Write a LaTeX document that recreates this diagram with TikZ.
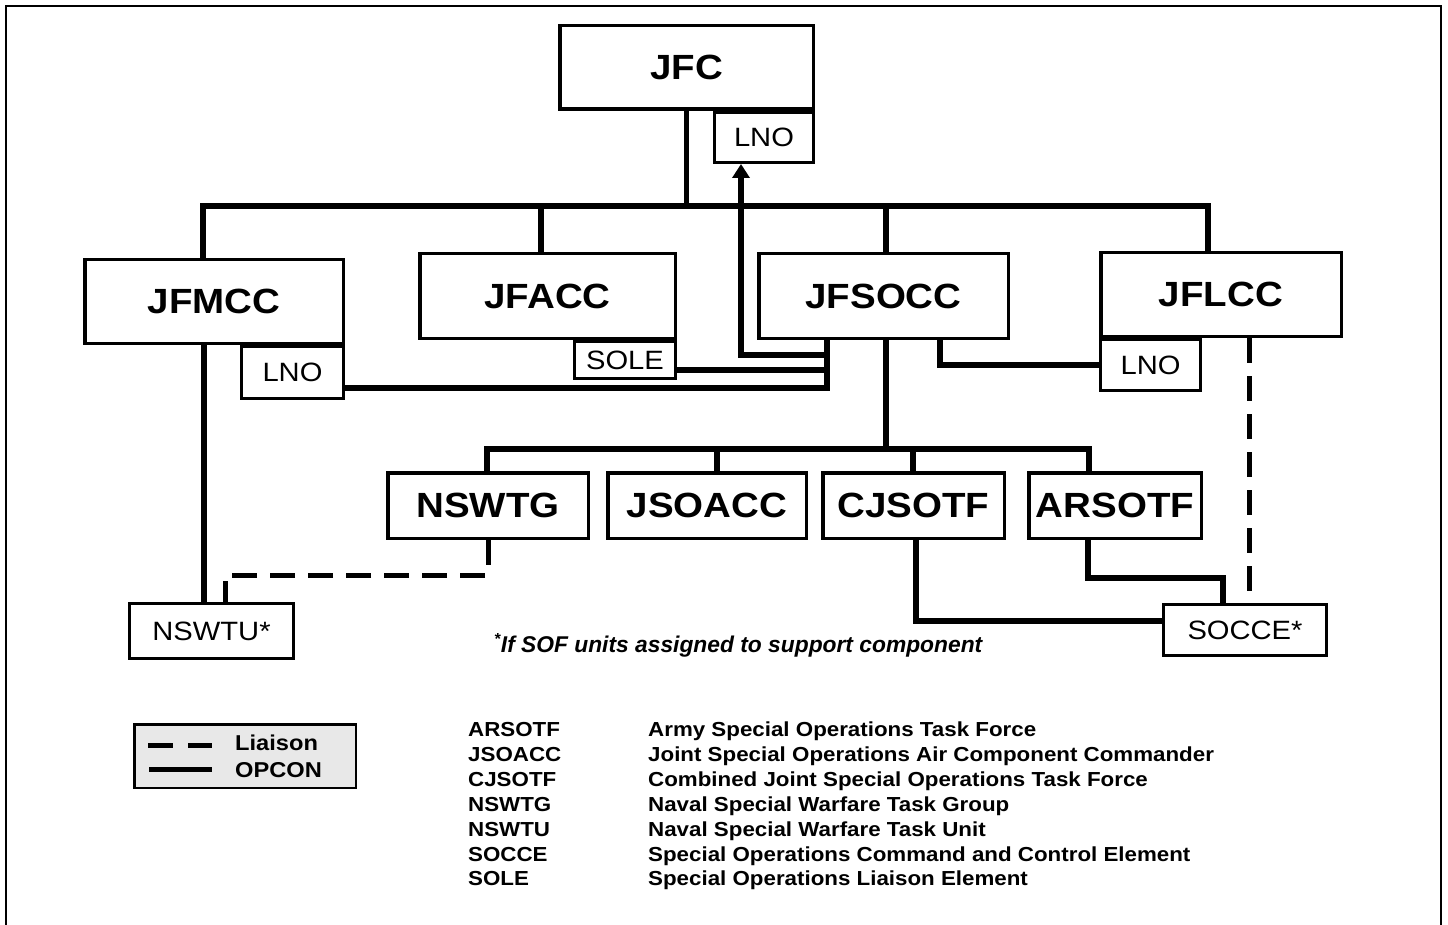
\documentclass[tikz,border=0pt]{standalone}
\usepackage{fontspec}
\setmainfont{Liberation Sans}
\newfontfamily\dfont[FakeStretch=1.1]{Liberation Sans}
\usetikzlibrary{arrows.meta}
\begin{document}
\begin{tikzpicture}[x=1pt,y=-1pt,
  bigbox/.style={draw,line width=3.5pt,inner sep=0pt,font=\dfont\fontsize{35}{40}\selectfont\bfseries},
  smallbox/.style={draw,line width=3pt,inner sep=0pt,font=\dfont\fontsize{26.5}{30}\selectfont},
  opcon/.style={line width=5.5pt},
  liaison/.style={line width=5pt,dash pattern=on 25pt off 13pt},
  abbr/.style={anchor=base west,inner sep=0pt,font=\dfont\fontsize{20.3}{24}\selectfont\bfseries},
  legtext/.style={anchor=base west,inner sep=0pt,font=\dfont\fontsize{21.5}{24}\selectfont\bfseries},
]
\useasboundingbox (0,0) rectangle (1448,925);
% frame
\draw[line width=2.5pt] (6,925) -- (6,6) -- (1441,6) -- (1441,925);

% boxes
\node[bigbox,minimum width=253.5pt,minimum height=83.5pt] (JFC) at (686.5,67.5) {JFC};
\node[smallbox,minimum width=99pt,minimum height=50pt] (LNOa) at (764,137.5) {\raisebox{-2pt}{LNO}};
\node[bigbox,minimum width=258.5pt,minimum height=83.5pt] (JFMCC) at (214,301.5) {JFMCC};
\node[smallbox,minimum width=102pt,minimum height=52pt] (LNOb) at (292.5,372.5) {LNO};
\node[bigbox,minimum width=255.5pt,minimum height=84.5pt] (JFACC) at (547.5,296) {\raisebox{-2pt}{JFACC}};
\node[smallbox,minimum width=101pt,minimum height=37pt] (SOLE) at (625,360) {\raisebox{-2pt}{SOLE}};
\node[bigbox,minimum width=249.5pt,minimum height=84.5pt] (JFSOCC) at (883.5,296) {JFSOCC};
\node[bigbox,minimum width=240.5pt,minimum height=83.5pt] (JFLCC) at (1221,294.5) {JFLCC};
\node[smallbox,minimum width=100pt,minimum height=51pt] (LNOc) at (1150.5,365) {\raisebox{-2pt}{LNO}};
\node[bigbox,minimum width=200.5pt,minimum height=65.5pt] (NSWTG) at (488,505.5) {NSWTG};
\node[bigbox,minimum width=198.5pt,minimum height=65.5pt] (JSOACC) at (707,505.5) {JSOACC};
\node[bigbox,minimum width=181.5pt,minimum height=65.5pt] (CJSOTF) at (913.5,505.5) {CJSOTF};
\node[bigbox,minimum width=172.5pt,minimum height=65.5pt] (ARSOTF) at (1115,505.5) {ARSOTF};
\node[smallbox,minimum width=164pt,minimum height=55pt] (NSWTU) at (211.5,631) {NSWTU*};
\node[smallbox,minimum width=163pt,minimum height=51pt] (SOCCE) at (1245,630) {SOCCE*};

% helper coordinates
\coordinate (b1) at (203,206);
\coordinate (b4) at (1208,206);
\coordinate (bA) at (541,206);
\coordinate (bS) at (886,206);
\coordinate (sv) at (827,0);
\coordinate (ax) at (741,0);
\coordinate (ya) at (0,355);
\coordinate (ys) at (0,370);
\coordinate (yl) at (0,388);
\coordinate (tx) at (940,0);
\coordinate (dx) at (1249,0);
\coordinate (b2l) at (487,449);
\coordinate (b2r) at (1089,449);
\coordinate (jx) at (717,0);
\coordinate (cx) at (913,0);
\coordinate (mx) at (204,0);
\coordinate (nx) at (225,0);
\coordinate (yd) at (0,575);
\coordinate (cbx) at (916,0);
\coordinate (yc) at (0,621);
\coordinate (abx) at (1088,0);
\coordinate (arx) at (1223,0);
\coordinate (yar) at (0,578);

% top bus
\draw[opcon] (JFMCC.north -| b1) -- (b1) -- (b4) -- (JFLCC.north -| b4);
\draw[opcon] (JFC.south) -- (JFC.south |- b1);
\draw[opcon] (bA) -- (JFACC.north -| bA);
\draw[opcon] (bS) -- (JFSOCC.north -| bS);

% JFSOCC liaison links
\draw[opcon] (JFSOCC.south -| sv) |- (LNOb.east |- yl);
\draw[opcon] (SOLE.east |- ys) -- (sv |- ys);
\draw[opcon,-{Triangle[width=17pt,length=14pt]}] (sv |- ya) -| (LNOa.south -| ax);
\draw[opcon] (JFSOCC.south -| tx) |- (LNOc.west);
\draw[liaison] (JFLCC.south -| dx) -- (SOCCE.north -| dx);

% JFSOCC subordinates
\draw[opcon] (bS |- JFSOCC.south) -- (bS |- b2l);
\draw[opcon] (NSWTG.north -| b2l) -- (b2l) -- (b2r) -- (ARSOTF.north -| b2r);
\draw[opcon] (jx |- b2l) -- (JSOACC.north -| jx);
\draw[opcon] (cx |- b2l) -- (CJSOTF.north -| cx);

% lower links
\draw[opcon] (JFMCC.south -| mx) -- (NSWTU.north -| mx);
\draw[liaison] (NSWTG.south) |- (nx |- yd) -- (NSWTU.north -| nx);
\draw[opcon] (CJSOTF.south -| cbx) |- (SOCCE.west |- yc);
\draw[opcon] (ARSOTF.south -| abx) |- (arx |- yar) -- (SOCCE.north -| arx);

% footnote
\node[anchor=base west,inner sep=0pt,font=\fontsize{22.8}{26}\selectfont\bfseries\itshape] (note) at (494,652) {\textsuperscript{*}If SOF units assigned to support component};

% legend
\node[draw,line width=2.5pt,fill=black!9,minimum width=221.5pt,minimum height=63.5pt,inner sep=0pt] (legend) at (245,756) {};
\coordinate (l1a) at (148,745);
\coordinate (l1b) at (212,745);
\coordinate (l2a) at (149,769);
\coordinate (l2b) at (212,769);
\draw[line width=5pt,dash pattern=on 25pt off 15pt] (l1a) -- (l1b);
\draw[line width=5pt] (l2a) -- (l2b);
\node[legtext] (lt1) at (235,750) {Liaison};
\node[legtext] (lt2) at (235,777) {OPCON};

% abbreviations
\node[abbr] (a1) at (468,736) {ARSOTF};
\node[abbr] (a2) at (468,761) {JSOACC};
\node[abbr] (a3) at (468,786) {CJSOTF};
\node[abbr] (a4) at (468,811) {NSWTG};
\node[abbr] (a5) at (468,836) {NSWTU};
\node[abbr] (a6) at (468,861) {SOCCE};
\node[abbr] (a7) at (468,885) {SOLE};
\node[abbr] (d1) at (648,736) {Army Special Operations Task Force};
\node[abbr] (d2) at (648,761) {Joint Special Operations Air Component Commander};
\node[abbr] (d3) at (648,786) {Combined Joint Special Operations Task Force};
\node[abbr] (d4) at (648,811) {Naval Special Warfare Task Group};
\node[abbr] (d5) at (648,836) {Naval Special Warfare Task Unit};
\node[abbr] (d6) at (648,861) {Special Operations Command and Control Element};
\node[abbr] (d7) at (648,885) {Special Operations Liaison Element};
\end{tikzpicture}
\end{document}
